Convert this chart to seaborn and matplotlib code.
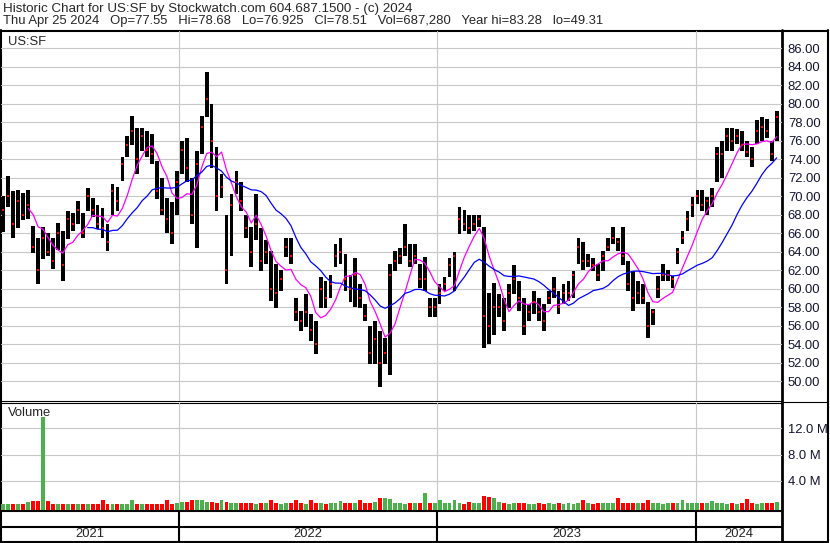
import matplotlib
matplotlib.use('Agg')
import matplotlib.pyplot as plt
import matplotlib.ticker as mticker
import numpy as np
import pandas as pd
import seaborn as sns

# weekly bars (Wednesday of each week), Apr 2021 - Apr 2024
weeks = pd.date_range('2021-04-28', periods=157, freq='7D')

hi = [70.0, 72.2, 70.5, 70.6, 70.3, 70.6, 66.8, 65.5, 66.6, 66.0,
      65.5, 67.1, 66.2, 68.4, 68.2, 69.5, 68.2, 70.9, 69.8, 69.0,
      68.7, 67.0, 71.3, 71.0, 74.2, 76.5, 78.7, 77.4, 77.4, 77.0,
      76.7, 73.8, 72.0, 69.8, 69.3, 72.7, 76.0, 76.3, 72.0, 74.9,
      78.7, 83.4, 80.0, 75.3, 72.4, 68.0, 70.2, 72.7, 71.5, 68.0,
      66.6, 70.2, 66.5, 65.2, 64.1, 62.6, 62.0, 65.5, 65.5, 59.0,
      57.6, 59.4, 57.2, 56.5, 61.2, 60.8, 61.5, 64.8, 65.5, 63.7,
      61.5, 63.3, 60.5, 58.3, 56.0, 56.5, 55.4, 54.7, 62.6, 64.1,
      64.4, 67.0, 64.8, 64.8, 62.6, 63.4, 59.0, 59.0, 60.5, 61.2,
      63.3, 64.0, 68.8, 68.5, 67.9, 68.0, 68.0, 66.6, 59.5, 60.6,
      59.4, 59.0, 60.5, 62.5, 60.8, 59.0, 58.3, 59.7, 59.0, 58.3,
      59.7, 61.2, 59.7, 60.5, 60.8, 61.9, 65.5, 65.0, 63.7, 63.3,
      62.6, 64.1, 65.5, 66.6, 65.5, 66.6, 63.0, 61.9, 60.8, 60.5,
      58.5, 57.8, 61.4, 62.6, 62.0, 61.4, 64.4, 66.2, 68.4, 69.9,
      70.6, 70.6, 69.9, 70.9, 75.3, 76.0, 77.4, 77.4, 77.2, 77.0,
      76.0, 75.3, 78.2, 78.5, 78.3, 76.0, 79.2]

lo = [66.1, 68.8, 65.5, 66.5, 67.4, 67.5, 63.8, 60.5, 63.2, 63.5,
      62.1, 64.2, 60.8, 65.4, 66.2, 67.0, 65.5, 68.4, 67.7, 66.4,
      65.5, 64.1, 68.0, 68.4, 71.6, 74.2, 75.5, 72.4, 74.9, 74.2,
      73.5, 69.7, 67.9, 66.0, 64.8, 68.0, 72.4, 71.5, 67.0, 64.4,
      74.5, 78.5, 73.0, 68.4, 69.8, 60.5, 63.5, 70.2, 68.4, 65.5,
      62.3, 65.2, 61.9, 62.6, 58.7, 57.9, 59.7, 63.4, 62.6, 56.5,
      55.4, 55.8, 54.3, 52.9, 57.9, 57.9, 59.0, 62.3, 62.6, 59.7,
      58.5, 58.0, 57.9, 56.5, 51.8, 51.8, 49.3, 51.8, 50.7, 61.9,
      62.6, 63.5, 62.3, 62.6, 60.1, 59.7, 56.9, 56.9, 58.3, 59.7,
      61.2, 59.7, 65.9, 66.2, 65.9, 66.2, 66.6, 53.6, 54.0, 55.0,
      56.9, 55.4, 57.9, 59.4, 57.6, 55.0, 56.5, 57.2, 56.5, 55.4,
      58.3, 59.0, 57.2, 58.3, 58.7, 59.0, 62.6, 62.0, 62.3, 61.9,
      60.8, 61.9, 64.1, 64.8, 64.1, 62.5, 59.7, 57.6, 58.3, 58.3,
      54.7, 56.1, 59.0, 60.8, 60.8, 60.1, 62.6, 64.8, 66.2, 67.7,
      69.1, 68.4, 68.0, 68.8, 71.5, 72.0, 74.9, 74.9, 75.6, 74.9,
      74.2, 73.1, 75.6, 76.0, 76.3, 73.8, 76.0]

cl = [68.5, 70.0, 67.0, 69.5, 68.0, 69.0, 64.5, 62.0, 65.5, 64.0,
      63.0, 66.0, 62.5, 67.5, 67.0, 68.5, 66.0, 70.0, 68.5, 67.0,
      66.5, 65.0, 70.5, 69.5, 73.5, 75.5, 77.0, 74.0, 76.5, 75.0,
      74.5, 70.5, 68.5, 67.5, 66.0, 71.5, 75.0, 73.0, 68.0, 73.5,
      77.5, 80.5, 76.0, 70.0, 71.0, 62.0, 69.0, 71.5, 69.5, 66.5,
      64.0, 67.0, 63.0, 64.0, 60.0, 59.5, 61.0, 64.5, 63.5, 57.5,
      56.5, 57.5, 55.5, 54.0, 60.0, 59.0, 60.5, 63.5, 64.0, 61.0,
      60.0, 61.5, 59.0, 57.0, 53.0, 54.5, 52.0, 53.0, 61.5, 63.0,
      63.5, 64.5, 63.0, 63.5, 61.0, 61.0, 58.0, 58.0, 59.5, 60.5,
      62.5, 63.5, 67.5, 67.0, 66.5, 67.0, 67.5, 57.0, 56.0, 58.0,
      58.0, 56.5, 59.5, 61.0, 59.0, 56.0, 57.5, 58.5, 57.5, 56.5,
      59.0, 60.0, 58.0, 59.5, 59.5, 61.5, 64.5, 63.0, 63.0, 62.5,
      61.5, 63.5, 64.5, 65.5, 65.0, 63.5, 60.5, 59.0, 59.5, 59.0,
      56.0, 57.5, 60.0, 61.5, 61.5, 61.0, 64.0, 65.5, 67.5, 69.0,
      70.0, 69.0, 69.5, 70.0, 74.5, 74.5, 76.5, 76.0, 76.5, 75.5,
      74.8, 74.0, 77.0, 77.5, 77.0, 74.5, 78.5]

# volume in millions
vol = [0.45, 0.45, 0.4, 0.4, 0.35, 0.8, 0.85, 0.9, 13.8, 0.9,
       0.4, 0.35, 0.35, 0.4, 0.35, 0.4, 0.35, 0.35, 0.4, 0.35,
       1.1, 0.4, 0.35, 0.4, 0.45, 0.4, 1.0, 0.45, 0.4, 0.35,
       0.4, 0.45, 0.4, 1.1, 0.35, 0.5, 0.8, 0.7, 1.0, 1.0,
       1.0, 0.8, 0.7, 0.6, 1.1, 0.7, 0.6, 0.5, 0.5, 0.6,
       0.5, 0.45, 0.5, 0.5, 1.1, 0.5, 0.45, 0.5, 0.6, 1.0,
       0.5, 0.45, 1.0, 0.5, 0.5, 0.45, 0.5, 0.5, 0.9, 0.6,
       0.5, 0.6, 1.1, 0.6, 0.6, 0.7, 1.3, 1.3, 1.2, 0.6,
       0.5, 0.45, 0.5, 0.6, 0.6, 2.1, 0.6, 0.5, 1.0, 0.5,
       0.6, 1.1, 0.5, 0.45, 0.7, 0.5, 0.6, 1.6, 1.5, 1.3,
       0.7, 0.5, 0.45, 0.5, 0.5, 0.6, 0.45, 0.45, 0.5, 0.45,
       0.5, 0.45, 0.5, 0.45, 0.5, 0.45, 0.5, 1.0, 0.5, 0.45,
       0.5, 0.5, 0.6, 0.5, 1.4, 0.6, 0.6, 0.5, 0.6, 0.5,
       1.0, 0.6, 0.5, 0.45, 0.5, 0.6, 0.5, 1.0, 0.6, 0.5,
       0.5, 0.6, 0.5, 0.9, 0.6, 0.5, 0.45, 0.5, 0.45, 0.5,
       1.2, 0.5, 0.45, 0.5, 0.5, 0.6, 0.7]

price_ticks = list(range(50, 87, 2))
vol_ticks = [4, 8, 12]
years = ['2021', '2022', '2023', '2024']
year_starts = pd.to_datetime(['2022-01-01', '2023-01-01', '2024-01-01'])

title1 = 'Historic Chart for US:SF by Stockwatch.com 604.687.1500 - (c) 2024'
title2 = ('Thu Apr 25 2024   Op=77.55   Hi=78.68   Lo=76.925   Cl=78.51   '
          'Vol=687,280   Year hi=83.28   lo=49.31')

sns.set_style('white')
plt.rcParams['font.family'] = ['Liberation Sans', 'DejaVu Sans']

df = pd.DataFrame({'date': weeks, 'hi': hi, 'lo': lo, 'cl': cl, 'vol': vol})
df['ma_fast'] = df['cl'].rolling(6).mean()
df['ma_slow'] = df['cl'].rolling(18).mean()
up = df['cl'].diff().fillna(0) >= 0
vol_colors = np.where(up, '#4cb04c', '#ff0000')

W, H = 830, 543
fig = plt.figure(figsize=(W / 100, H / 100), dpi=100)


def box(x0, y0, x1, y1):
    return [x0 / W, 1 - y1 / H, (x1 - x0) / W, (y1 - y0) / H]


# frame and header
bg = fig.add_axes([0, 0, 1, 1])
bg.set_xlim(0, W)
bg.set_ylim(H, 0)
bg.axis('off')
lw = 1.5
for y in [510.5, 526.5]:
    bg.plot([0, 782], [y, y], color='black', lw=lw)
bg.plot([0, 828], [30.5, 30.5], color='black', lw=lw)
bg.plot([0, 828], [541.8, 541.8], color='black', lw=lw)
bg.plot([782, 828], [401.5, 401.5], color='black', lw=0.8)
bg.plot([0.7, 0.7], [30, 542], color='black', lw=lw)
bg.plot([782, 782], [30, 542], color='black', lw=lw + 0.5)
bg.plot([827.5, 827.5], [30, 542], color='black', lw=lw)
bg.plot([0, 782], [400.5, 400.5], color='black', lw=0.8)
bg.plot([0, 782], [402.8, 402.8], color='black', lw=0.8)
bg.text(3, 9, title1, fontsize=9.6, va='center', ha='left')
bg.text(3, 21, title2, fontsize=9.4, va='center', ha='left')
bg.text(8, 42, 'US:SF', fontsize=9.4, va='center', ha='left')
bg.text(8, 413, 'Volume', fontsize=9.4, va='center', ha='left')

xl = pd.Timestamp('2021-04-24 14:00')
xr = pd.Timestamp('2024-05-01 12:00')
label_color = '#141432'

# price panel
axp = fig.add_axes(box(1, 31, 782, 401))
axp.patch.set_alpha(0)
axp.set_axisbelow(True)
axp.bar(df['date'], df['hi'] - df['lo'], bottom=df['lo'], width=5.3,
        color='black', linewidth=0)
axp.scatter(df['date'], df['cl'], marker='s', s=2.2, color='red',
            linewidths=0, zorder=3)
sns.lineplot(data=df, x='date', y='ma_fast', color='#ff00ff', lw=0.9, ax=axp)
sns.lineplot(data=df, x='date', y='ma_slow', color='#0000ff', lw=0.9, ax=axp)
axp.set_xlim(xl, xr)
axp.set_ylim(47.84, 87.84)
axp.set_yticks(price_ticks)
axp.yaxis.set_major_formatter(mticker.FormatStrFormatter('%.2f'))
axp.yaxis.tick_right()
axp.set_xticks(year_starts)
axp.set_xticklabels([])
axp.tick_params(length=0, pad=4.2, labelsize=9.4, labelcolor=label_color)
axp.grid(True, color='#c8c8c8', lw=0.8)
axp.set_xlabel('')
axp.set_ylabel('')
for s in axp.spines.values():
    s.set_visible(False)

# volume panel
axv = fig.add_axes(box(1, 403, 782, 510))
axv.patch.set_alpha(0)
axv.set_axisbelow(True)
axv.bar(df['date'], df['vol'] + 0.5, bottom=-0.5, width=5.5,
        color=vol_colors, linewidth=0)
axv.set_xlim(xl, xr)
axv.set_ylim(-0.5, 15.9)
axv.set_yticks(vol_ticks)
axv.yaxis.set_major_formatter(mticker.FuncFormatter(lambda v, p: '%.1f M' % v))
axv.yaxis.tick_right()
axv.set_xticks(year_starts)
axv.set_xticklabels([])
axv.tick_params(length=0, pad=4.2, labelsize=9.4, labelcolor=label_color)
axv.grid(True, color='#c8c8c8', lw=0.8)
for s in axv.spines.values():
    s.set_visible(False)

# year strip
axy = fig.add_axes(box(1, 510, 782, 542))
axy.patch.set_alpha(0)
axy.set_xlim(xl, xr)
axy.set_ylim(0, 1)
axy.axis('off')
for d in year_starts:
    axy.axvline(d, color='black', lw=1.5)
edges = [xl] + list(year_starts) + [xr]
for i, name in enumerate(years):
    mid = edges[i] + (edges[i + 1] - edges[i]) / 2
    axy.text(mid, 0.25, name, ha='center', va='center', fontsize=9.4)

fig.savefig('out.png', dpi=100)
